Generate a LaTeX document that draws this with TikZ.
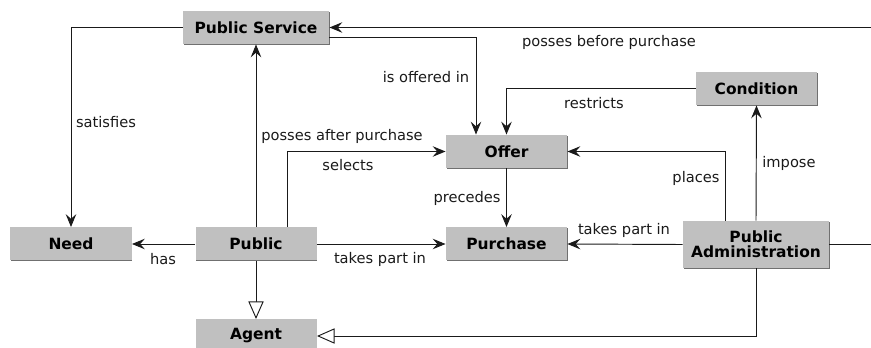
\documentclass[tikz,border=0pt]{standalone}
\usepackage{fontspec}
\setmainfont{DejaVu Sans}
\usetikzlibrary{arrows.meta, positioning, calc, shadows}
\definecolor{boxgray}{HTML}{C0C0C0}
\definecolor{shadegray}{HTML}{707070}
\definecolor{inkgray}{HTML}{1A1A1A}

\begin{document}
\begin{tikzpicture}[x=0.03cm, y=-0.03cm, line width=0.8pt, inkgray,
  >={Stealth[length=11pt, width=9pt, inset=4pt]},
  isa/.style={-{Triangle[open, length=15pt, width=13pt, fill=white]}},
  entity/.style={fill=boxgray, draw=none, text=black, font=\fontsize{13.2}{15}\selectfont\bfseries,
                 minimum width=3.63cm, minimum height=0.99cm, align=center, inner sep=2pt,
                 drop shadow={shadow xshift=0.8pt, shadow yshift=-0.8pt, opacity=1, fill=shadegray}},
  rel/.style={font=\fontsize{12.5}{14}\selectfont, text=inkgray, inner sep=1pt}]

% Frame of the page
\useasboundingbox (0,0) rectangle (871,348);
\clip (0,0) rectangle (871,348);

% =========== ENTITIES ===========
\node[entity, minimum width=4.38cm] (service) at (256,27.5) {Public Service};
\node[entity] (need) at (71,244) {Need};
\node[entity] (public) at (256,244) {Public};
\node[entity] (agent) at (256,336) {Agent};
\node[entity] (offer) at (506.5,151.5) {Offer};
\node[entity] (condition) at (756.5,88.5) {Condition};
\node[entity] (purchase) at (506.5,244) {Purchase};
\node[entity, minimum width=4.38cm, minimum height=1.41cm] (admin) at (756,244.5)
  {Public\\[-2pt]Administration};

% =========== RELATIONS ===========
% runs off the right edge and back
\draw[->] (admin.east) -- ++(80,0) |- (service.east);
\node[rel] at (609,42) {posses before purchase};

\draw[->] ($(service.east)+(0,10)$) -| ($(offer.north)+(-30.5,0)$);
\node[rel] at (426,77) {is offered in};

\draw[->] (service.west) -| (need.north);
\node[rel] at (106,122) {satisfies};

\draw[->] (public.north) -- (service.south);
\node[rel] at (342,136) {posses after purchase};

\draw[->] ($(public.north)+(31,0)$) |- (offer.west);
\node[rel] at (348,165) {selects};

\draw[->] (condition.west) -| (offer.north);
\node[rel] at (594,103) {restricts};

\draw[->] ($(admin.north)+(-31,0)$) |- (offer.east);
\node[rel] at (696,178) {places};

\draw[->] (admin.north) -- (condition.south);
\node[rel] at (789,163) {impose};

\draw[->] (offer.south) -- (purchase.north);
\node[rel] at (467,198) {precedes};

\draw[->] (admin.west) -- (purchase.east);
\node[rel] at (624,230) {takes part in};

\draw[->] (public.east) -- (purchase.west);
\node[rel] at (380,259) {takes part in};

\draw[->] (public.west) -- (need.east);
\node[rel] at (163,259) {has};

% generalisation
\draw[isa] (public.south) -- (agent.north);
\draw[isa] (admin.south) |- (agent.east);

\end{tikzpicture}
\end{document}
